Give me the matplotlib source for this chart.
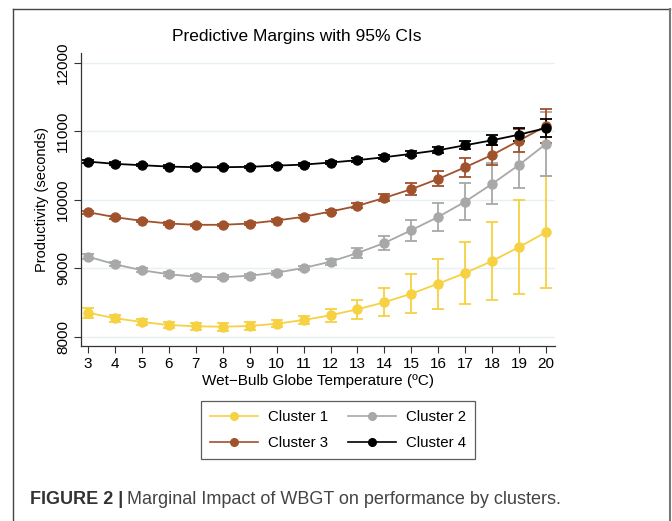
import matplotlib
matplotlib.use("Agg")
import matplotlib.pyplot as plt
from matplotlib.lines import Line2D
import numpy as np

plt.rcParams['font.family'] = ['Liberation Sans', 'DejaVu Sans']

wbgt = [3, 4, 5, 6, 7, 8, 9, 10, 11, 12, 13, 14, 15, 16, 17, 18, 19, 20]

cluster1 = [8351, 8269, 8215, 8171, 8152, 8146, 8156, 8190, 8244, 8313, 8401, 8503, 8629, 8775, 8931, 9107, 9311, 9528]
cluster1_ci = [75, 55, 45, 50, 55, 60, 55, 50, 55, 95, 140, 205, 285, 365, 455, 575, 690, 820]

cluster2 = [9170, 9058, 8971, 8912, 8877, 8868, 8892, 8936, 9004, 9096, 9223, 9370, 9557, 9751, 9975, 10234, 10512, 10819]
cluster2_ci = [35, 30, 28, 28, 30, 30, 30, 30, 30, 45, 80, 105, 155, 210, 265, 300, 345, 470]

cluster3 = [9820, 9747, 9693, 9654, 9635, 9635, 9654, 9698, 9752, 9829, 9912, 10029, 10156, 10307, 10477, 10657, 10866, 11080]
cluster3_ci = [22, 20, 18, 18, 18, 18, 18, 18, 20, 25, 35, 50, 85, 110, 140, 150, 170, 250]

cluster4 = [10559, 10526, 10506, 10486, 10477, 10477, 10482, 10500, 10515, 10545, 10580, 10623, 10672, 10725, 10798, 10871, 10953, 11050]
cluster4_ci = [22, 20, 18, 16, 15, 15, 15, 16, 18, 20, 25, 30, 35, 45, 60, 75, 100, 130]

labels = ["Cluster 1", "Cluster 2", "Cluster 3", "Cluster 4"]
colors = ["#f6d141", "#a8a8a8", "#a0522d", "#000000"]
series = [(cluster1, cluster1_ci), (cluster2, cluster2_ci), (cluster3, cluster3_ci), (cluster4, cluster4_ci)]

yticks = [8000, 9000, 10000, 11000, 12000]

fig = plt.figure(figsize=(6.72, 5.21), dpi=100)
ax = fig.add_axes([81/672, 1-346/521, (555-81)/672, (346-53)/521])

for yt in yticks:
    ax.axhline(yt, color="#e6eff2", lw=1.0, zorder=0)

for (vals, ci), c in zip(series, colors):
    ax.errorbar(wbgt, vals, yerr=ci, fmt='-o', color=c, ms=6.5, lw=1.3,
                elinewidth=1.3, capsize=4, capthick=1.3, zorder=3)

ax.set_xlim(2.74, 20.33)
ax.set_ylim(7864, 12146)
ax.set_xticks(wbgt)
ax.set_yticks(yticks)
ax.set_yticklabels([str(v) for v in yticks], rotation=90, va='center')
ax.tick_params(axis='both', labelsize=11, length=5, width=0.8, color="#333333", pad=3)
for s in ['top', 'right']:
    ax.spines[s].set_visible(False)
for s in ['left', 'bottom']:
    ax.spines[s].set_color("#333333")
    ax.spines[s].set_linewidth(0.9)

ax.set_xlabel("Wet\u2212Bulb Globe Temperature (ºC)", fontsize=11, labelpad=2)
ax.set_ylabel("Productivity (seconds)", fontsize=10.5, labelpad=5)
fig.text(297/672, 1-37/521, "Predictive Margins with 95% CIs", ha='center', va='center', fontsize=12.5)

order = [0, 2, 1, 3]
handles = [Line2D([0], [0], color=colors[i], marker='o', ms=5.5, lw=1.2) for i in order]
leg_labels = [labels[i] for i in order]
leg = fig.legend(handles, leg_labels, ncol=2, loc='center', bbox_to_anchor=(338/672, 1-430/521),
                 fontsize=10.8, frameon=True, fancybox=False, edgecolor="#333333",
                 handlelength=3.2, handletextpad=0.7, columnspacing=1.3, borderpad=0.6, labelspacing=0.8)
leg.get_frame().set_linewidth(0.9)

# outer frame
fig.add_artist(Line2D([13/672, 13/672], [0, 1-9/521], transform=fig.transFigure, color="#444444", lw=1.0))
fig.add_artist(Line2D([13/672, 670/672], [1-9/521, 1-9/521], transform=fig.transFigure, color="#444444", lw=1.0))
fig.add_artist(Line2D([670/672, 670/672], [1-9/521, 0], transform=fig.transFigure, color="#777777", lw=1.5))

t1 = fig.text(30/672, 1-499/521, "FIGURE 2 |", fontsize=13, fontweight='bold', color="#333333", va='center', ha='left')
fig.canvas.draw()
bb = t1.get_window_extent()
fig.text((bb.x1 + 4)/672, 1-499/521, "Marginal Impact of WBGT on performance by clusters.", fontsize=13, color="#444444", va='center', ha='left')

fig.savefig("out.png", dpi=100)
